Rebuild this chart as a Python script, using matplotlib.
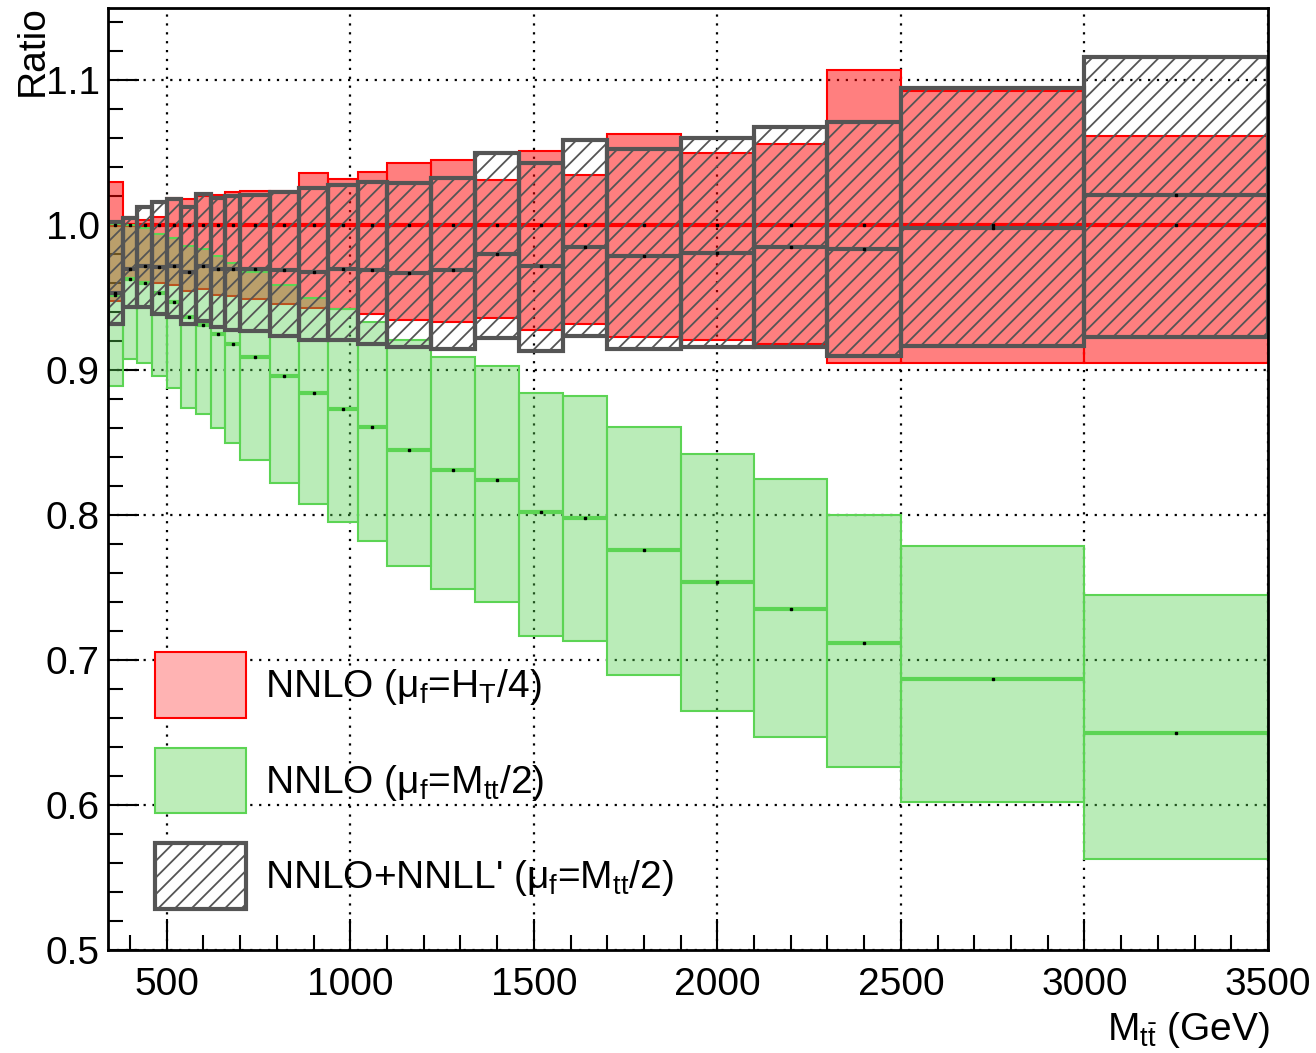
import matplotlib
matplotlib.use("Agg")
import matplotlib.pyplot as plt
from matplotlib.patches import Patch
from matplotlib.ticker import MultipleLocator, FormatStrFormatter
import numpy as np

plt.rcParams['font.family'] = ['Liberation Sans', 'DejaVu Sans']
plt.rcParams['mathtext.fontset'] = 'custom'
plt.rcParams['mathtext.rm'] = 'Liberation Sans'
plt.rcParams['mathtext.it'] = 'Liberation Sans'
plt.rcParams['mathtext.bf'] = 'Liberation Sans:bold'
plt.rcParams['hatch.linewidth'] = 1.3

# ---- data ----
bin_edges = [340, 380, 420, 460, 500, 540, 580, 620, 660, 700, 780, 860, 940,
             1020, 1100, 1220, 1340, 1460, 1580, 1700, 1900, 2100, 2300, 2500,
             3000, 3500]

# NNLO (mu_f = H_T/4)
ht4_center = [1.000, 1.000, 1.000, 1.000, 1.000, 1.000, 1.000, 1.000, 1.000,
              1.000, 1.000, 1.000, 1.000, 1.000, 1.000, 1.000, 1.000, 1.000,
              1.000, 1.000, 1.000, 1.000, 1.000, 1.000, 1.000]
ht4_low = [0.948, 0.962, 0.960, 0.960, 0.959, 0.955, 0.956, 0.952, 0.951,
           0.949, 0.946, 0.943, 0.942, 0.939, 0.935, 0.933, 0.936, 0.928,
           0.932, 0.923, 0.921, 0.918, 0.905, 0.905, 0.905]
ht4_high = [1.030, 1.006, 1.004, 1.006, 1.019, 1.018, 1.020, 1.021, 1.023,
            1.024, 1.024, 1.036, 1.032, 1.037, 1.043, 1.045, 1.031, 1.051,
            1.035, 1.063, 1.050, 1.056, 1.107, 1.093, 1.062]

# NNLO (mu_f = M_tt/2)
mtt_center = [0.952, 0.963, 0.960, 0.953, 0.947, 0.937, 0.931, 0.925, 0.918,
              0.909, 0.896, 0.884, 0.873, 0.861, 0.845, 0.831, 0.824, 0.802,
              0.798, 0.776, 0.754, 0.735, 0.712, 0.687, 0.650]
mtt_low = [0.889, 0.908, 0.905, 0.896, 0.888, 0.874, 0.870, 0.860, 0.850,
           0.838, 0.822, 0.808, 0.795, 0.782, 0.765, 0.749, 0.740, 0.717,
           0.713, 0.690, 0.665, 0.647, 0.626, 0.602, 0.563]
mtt_high = [1.001, 1.000, 0.998, 0.994, 0.991, 0.986, 0.984, 0.979, 0.974,
            0.968, 0.959, 0.950, 0.942, 0.933, 0.921, 0.909, 0.903, 0.884,
            0.882, 0.861, 0.842, 0.825, 0.800, 0.779, 0.745]

# NNLO+NNLL' (mu_f = M_tt/2)
res_center = [0.953, 0.970, 0.972, 0.971, 0.972, 0.968, 0.972, 0.970, 0.970,
              0.970, 0.969, 0.968, 0.970, 0.969, 0.967, 0.969, 0.980, 0.972,
              0.985, 0.979, 0.981, 0.985, 0.984, 0.998, 1.021]
res_low = [0.932, 0.944, 0.944, 0.939, 0.937, 0.932, 0.934, 0.930, 0.928,
           0.927, 0.924, 0.921, 0.921, 0.918, 0.916, 0.915, 0.922, 0.913,
           0.924, 0.915, 0.916, 0.916, 0.910, 0.917, 0.923]
res_high = [1.002, 1.005, 1.013, 1.016, 1.018, 1.013, 1.022, 1.019, 1.020,
            1.021, 1.023, 1.026, 1.028, 1.030, 1.029, 1.033, 1.050, 1.043,
            1.059, 1.053, 1.060, 1.068, 1.071, 1.095, 1.116]

legend_labels = [r"NNLO ($\mu_{f}$=H$_{T}$/4)",
                 r"NNLO ($\mu_{f}$=M$_{tt}$/2)",
                 r"NNLO+NNLL' ($\mu_{f}$=M$_{tt}$/2)"]

# ---- styles ----
RED_FILL = (1.0, 0.0, 0.0, 0.5)
RED_EDGE = '#ff0000'
GREEN = (0.33, 0.82, 0.31)
GREEN_EDGE = '#5cd454'
HATCH_COL = '#555555'
FS = 28

edges = np.array(bin_edges, dtype=float)
left = edges[:-1]
right = edges[1:]
width = right - left
mid = 0.5 * (left + right)

fig = plt.figure(figsize=(13.16, 10.53), dpi=100)
ax = fig.add_axes([108 / 1316, 1 - 950 / 1053, 1160 / 1316, 942 / 1053])

def band(lo, hi, **kw):
    lo = np.array(lo)
    hi = np.array(hi)
    return ax.bar(left, hi - lo, bottom=lo, width=width, align='edge', **kw)

# red band
band(ht4_low, ht4_high, facecolor=RED_FILL, edgecolor=RED_EDGE, linewidth=1.5, zorder=1.0)
ax.hlines(ht4_center, left, right, colors=RED_EDGE, linewidth=3, zorder=1.1)

# green band (semi-transparent, over red)
band(mtt_low, mtt_high, facecolor=(*GREEN, 0.4), edgecolor=GREEN_EDGE, linewidth=1.5, zorder=1.2)
ax.hlines(mtt_center, left, right, colors=GREEN_EDGE, linewidth=3, zorder=1.3)

# hatched resummed band
band(res_low, res_high, facecolor='none', edgecolor=HATCH_COL, hatch='//', linewidth=3, zorder=1.5)
ax.hlines(res_center, left, right, colors=HATCH_COL, linewidth=3, zorder=1.6)

# central markers
for c in (ht4_center, mtt_center, res_center):
    ax.plot(mid, c, ls='none', marker='s', ms=1.8, color='black', zorder=1.8)

ax.set_xlim(340, 3500)
ax.set_ylim(0.5, 1.15)

ax.xaxis.set_major_locator(MultipleLocator(500))
ax.xaxis.set_minor_locator(MultipleLocator(100))
ax.yaxis.set_major_locator(MultipleLocator(0.1))
ax.yaxis.set_minor_locator(MultipleLocator(0.02))
ax.yaxis.set_major_formatter(FormatStrFormatter('%.1f'))

ax.tick_params(which='both', direction='in', top=False, right=False,
               labelsize=FS, width=1.5, color='black')
ax.tick_params(axis='x', which='major', length=22, pad=12)
ax.tick_params(axis='x', which='minor', length=11)
ax.tick_params(axis='y', which='major', length=22, pad=6)
ax.tick_params(axis='y', which='minor', length=11)

ax.set_axisbelow(True)
ax.grid(True, which='major', color='black', linestyle=(0, (1, 3)), linewidth=1.6)

for s in ax.spines.values():
    s.set_linewidth(2)
    s.set_zorder(3)

ax.set_xlabel(r"M$_{\mathrm{t\bar{t}}}$ (GeV)", fontsize=FS)
ax.xaxis.label.set_ha('right')
ax.xaxis.label.set_va('baseline')
ax.xaxis.set_label_coords(1.0017, -0.0955)

ax.set_ylabel("Ratio", fontsize=FS)
ax.yaxis.label.set_ha('right')
ax.yaxis.label.set_va('center')
ax.yaxis.label.set_rotation_mode('anchor')
ax.yaxis.set_label_coords(-0.0647, 1.003)

handles = [Patch(facecolor='#ffb3b3', edgecolor=RED_EDGE, linewidth=1.5),
           Patch(facecolor='#bdedb9', edgecolor=GREEN_EDGE, linewidth=1.5),
           Patch(facecolor='white', edgecolor=HATCH_COL, hatch='//', linewidth=3)]
leg = ax.legend(handles, legend_labels, loc='upper left',
                bbox_to_anchor=((155 - 108) / 1160, (950 - 652) / 942),
                frameon=False, fontsize=FS, handlelength=2.34, handleheight=2.22,
                labelspacing=0.77, handletextpad=0.49, borderpad=0, borderaxespad=0)
leg.set_zorder(3)

fig.savefig('out.png', dpi=100)
